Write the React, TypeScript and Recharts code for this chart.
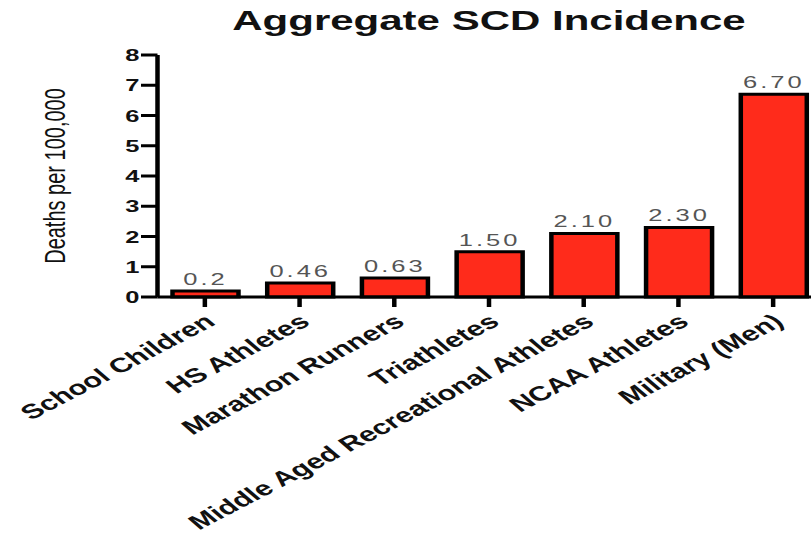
import React from 'react'
import { BarChart, Bar, XAxis, YAxis, LabelList } from 'recharts'

// the source picture is stretched sideways, so the chart is drawn narrow and scaled by SX
const SX = 1.5

const categories = [
  'School Children',
  'HS Athletes',
  'Marathon Runners',
  'Triathletes',
  'Middle Aged Recreational Athletes',
  'NCAA Athletes',
  'Military (Men)',
]
const incidence = [0.2, 0.46, 0.63, 1.5, 2.1, 2.3, 6.7]
const valueLabels = ['0.2', '0.46', '0.63', '1.50', '2.10', '2.30', '6.70']
const yTicks = [0, 1, 2, 3, 4, 5, 6, 7, 8]

const data = categories.map((name, i) => ({
  name,
  value: incidence[i],
  label: valueLabels[i],
}))

const FONT = '"Liberation Sans", Arial, Helvetica, sans-serif'

function CategoryTick(props: any) {
  const { x, y, payload } = props
  return (
    <g transform={`translate(${x + 8},${y + 17})`}>
      <text
        textAnchor="end"
        transform="rotate(-38)"
        fontSize={20.5}
        fontWeight="bold"
        fontFamily={FONT}
        fill="#111"
      >
        {payload.value}
      </text>
    </g>
  )
}

export default function App() {
  return (
    <div
      style={{
        position: 'fixed',
        left: 0,
        top: 0,
        width: 811,
        height: 541,
        overflow: 'hidden',
        background: '#fff',
      }}
    >
      <div
        style={{
          position: 'relative',
          width: 560,
          height: 541,
          transform: `scaleX(${SX})`,
          transformOrigin: '0 0',
          fontFamily: FONT,
        }}
      >
        <div
          style={{
            position: 'absolute',
            left: 126,
            top: 7,
            width: 400,
            textAlign: 'center',
            fontSize: 28,
            lineHeight: '28px',
            fontWeight: 'bold',
            color: '#111',
          }}
        >
          Aggregate SCD Incidence
        </div>
        <BarChart
          width={550}
          height={541}
          data={data}
          margin={{ top: 55, right: 3, bottom: 0, left: 0 }}
        >
          <XAxis
            dataKey="name"
            interval={0}
            height={244}
            tickSize={10}
            tickMargin={0}
            axisLine={{ stroke: '#000', strokeWidth: 3 }}
            tickLine={{ stroke: '#000', strokeWidth: 3 }}
            tick={<CategoryTick />}
          />
          <YAxis
            domain={[0, 8]}
            ticks={yTicks}
            width={105}
            tickSize={11}
            tickMargin={1}
            axisLine={{ stroke: '#000', strokeWidth: 3 }}
            tickLine={{ stroke: '#000', strokeWidth: 3 }}
            tick={{ fontSize: 17, fontWeight: 'bold', fill: '#111', fontFamily: FONT }}
            label={{
              value: 'Deaths per 100,000',
              angle: -90,
              position: 'insideLeft',
              offset: 36,
              style: { textAnchor: 'middle', fontSize: 20, fill: '#111', fontFamily: FONT },
            }}
          />
          <Bar
            dataKey="value"
            barSize={44}
            fill="#ff2b1b"
            stroke="#000"
            strokeWidth={3}
            isAnimationActive={false}
          >
            <LabelList
              dataKey="label"
              position="top"
              offset={6}
              fill="#555"
              fontSize={17}
              fontFamily={FONT}
              letterSpacing={2}
            />
          </Bar>
        </BarChart>
      </div>
    </div>
  )
}
